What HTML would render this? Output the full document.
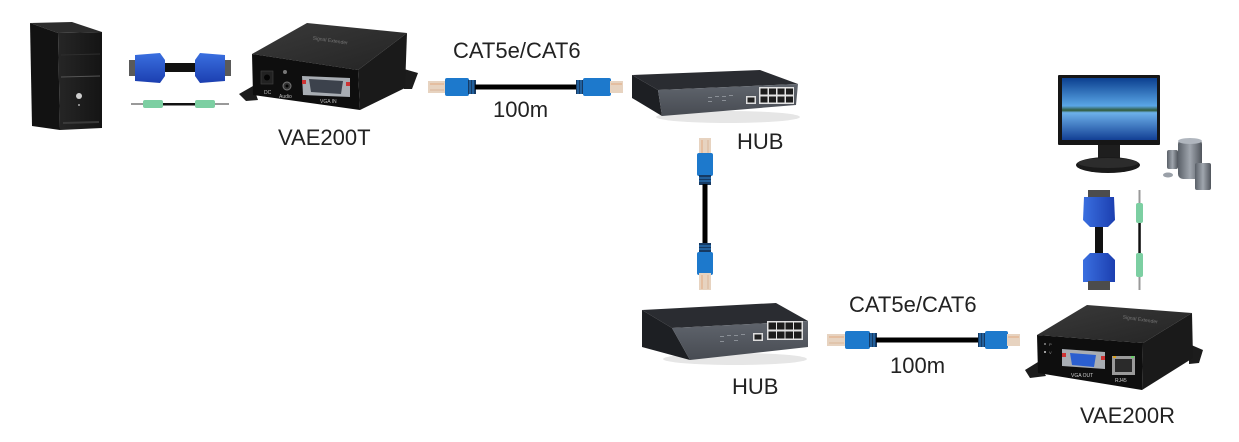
<!DOCTYPE html>
<html>
<head>
<meta charset="utf-8">
<style>
html,body{margin:0;padding:0;background:#fff;}
svg{display:block;}
text{font-family:"Liberation Sans",Arial,sans-serif;}
</style>
</head>
<body>
<svg width="1239" height="442" viewBox="0 0 1239 442" xmlns="http://www.w3.org/2000/svg">
<defs>
  <linearGradient id="towerFront" x1="0" y1="0" x2="1" y2="0">
    <stop offset="0" stop-color="#262626"/><stop offset="1" stop-color="#141414"/>
  </linearGradient>
  <linearGradient id="screen" x1="0" y1="0" x2="0" y2="1">
    <stop offset="0" stop-color="#0b3f8f"/>
    <stop offset="0.45" stop-color="#5aa6e6"/>
    <stop offset="0.52" stop-color="#2f5a3a"/>
    <stop offset="0.56" stop-color="#6db1ea"/>
    <stop offset="1" stop-color="#123f94"/>
  </linearGradient>
  <linearGradient id="vgaBlue" x1="0" y1="0" x2="0" y2="1">
    <stop offset="0" stop-color="#3a6fe0"/><stop offset="1" stop-color="#1c3fb0"/>
  </linearGradient>
  <linearGradient id="vgaBlueV" x1="0" y1="0" x2="1" y2="0">
    <stop offset="0" stop-color="#3a6fe0"/><stop offset="1" stop-color="#1c3fb0"/>
  </linearGradient>
  <linearGradient id="hubFront" x1="0" y1="0" x2="0" y2="1">
    <stop offset="0" stop-color="#60656d"/><stop offset="1" stop-color="#474b52"/>
  </linearGradient>
  <linearGradient id="spk" x1="0" y1="0" x2="1" y2="0">
    <stop offset="0" stop-color="#5a6068"/><stop offset="0.5" stop-color="#a0a6ae"/><stop offset="1" stop-color="#50555c"/>
  </linearGradient>
  <linearGradient id="boxTop" x1="0" y1="0" x2="1" y2="1">
    <stop offset="0" stop-color="#3a3a3a"/><stop offset="1" stop-color="#242424"/>
  </linearGradient>
</defs>

<!-- ========== PC TOWER ========== -->
<polygon points="30,23 72,22 102,32 58,33" fill="#2c2c2c"/>
<polygon points="30,23 58,33 60,130 32,126" fill="#121212"/>
<polygon points="58,33 102,32 102,128 60,130" fill="url(#towerFront)"/>
<line x1="61" y1="77" x2="100" y2="76" stroke="#555" stroke-width="1"/>
<line x1="61" y1="55" x2="100" y2="54" stroke="#2e2e2e" stroke-width="1"/>
<circle cx="79" cy="96" r="3" fill="#cfcfcf"/>
<rect x="78" y="104" width="2" height="2" fill="#888"/>
<line x1="63" y1="123" x2="99" y2="122" stroke="#3a3a3a" stroke-width="2"/>

<!-- ========== VGA CABLE (horizontal, top-left) ========== -->
<rect x="158" y="63" width="40" height="9" fill="#111"/>
<rect x="129" y="60" width="9" height="16" fill="#5a5a5a"/>
<polygon points="135,55 160,53 165,60 165,76 160,83 135,81" fill="url(#vgaBlue)"/>
<rect x="222" y="60" width="9" height="16" fill="#5a5a5a"/>
<polygon points="195,60 200,53 225,55 225,81 200,83 195,76" fill="url(#vgaBlue)"/>
<!-- audio cable -->
<rect x="131" y="103" width="13" height="2" fill="#999"/>
<rect x="143" y="100" width="20" height="8" rx="2" fill="#7ccfa2"/>
<rect x="163" y="103" width="32" height="2.5" fill="#111"/>
<rect x="195" y="100" width="20" height="8" rx="2" fill="#7ccfa2"/>
<rect x="215" y="103" width="14" height="2" fill="#999"/>

<!-- ========== VAE200T ========== -->
<polygon points="239,94 253,86 258,100 246,101" fill="#1c1c1c"/>
<polygon points="404,69 418,73 412,89 404,89" fill="#1c1c1c"/>
<polygon points="252,54 307,23 407,33 358,70" fill="url(#boxTop)"/>
<polygon points="358,70 407,33 405,88 360,110" fill="#1a1a1a"/>
<polygon points="252,54 358,70 360,110 253,95" fill="#0e0e0e"/>
<text x="330" y="42" font-size="5" fill="#777" transform="rotate(8 330 42)" text-anchor="middle">Signal Extender</text>
<!-- DC -->
<rect x="261" y="71" width="12" height="13" fill="#222" stroke="#444" stroke-width="0.6"/>
<circle cx="267" cy="77.5" r="3" fill="#050505"/>
<text x="264" y="94" font-size="5" fill="#bbb">DC</text>
<!-- audio -->
<circle cx="285" cy="72" r="2" fill="#777"/>
<circle cx="287" cy="86" r="4" fill="#333" stroke="#777" stroke-width="1"/>
<circle cx="287" cy="86" r="1.5" fill="#000"/>
<text x="279" y="98" font-size="5" fill="#bbb">Audio</text>
<!-- VGA in -->
<polygon points="302,76 350,78 350,97 303,95" fill="#a8adb3"/>
<rect x="302" y="80" width="4" height="4" fill="#c33"/>
<rect x="346" y="82" width="4" height="4" fill="#c33"/>
<polygon points="309,79 343,81 341,94 311,92" fill="#3c424c"/>
<text x="320" y="103" font-size="5" fill="#bbb">VGA IN</text>
<text x="278" y="145" font-size="22" fill="#222">VAE200T</text>

<!-- ========== TOP CABLE ========== -->
<rect x="428" y="81" width="18" height="12" fill="#e7d3c0"/>
<line x1="430" y1="84" x2="444" y2="84" stroke="#e0a070" stroke-width="0.8"/>
<line x1="430" y1="90" x2="444" y2="90" stroke="#d8b090" stroke-width="0.8"/>
<rect x="445" y="78" width="24" height="18" rx="2" fill="#1d79cc"/>
<rect x="468" y="80" width="8" height="14" fill="#163a63"/>
<line x1="470" y1="80" x2="470" y2="94" stroke="#2f86d6" stroke-width="1"/>
<line x1="473" y1="80" x2="473" y2="94" stroke="#2f86d6" stroke-width="1"/>
<rect x="475" y="84.5" width="102" height="5" fill="#000"/>
<rect x="576" y="80" width="8" height="14" fill="#163a63"/>
<line x1="578" y1="80" x2="578" y2="94" stroke="#2f86d6" stroke-width="1"/>
<line x1="581" y1="80" x2="581" y2="94" stroke="#2f86d6" stroke-width="1"/>
<rect x="583" y="78" width="28" height="18" rx="2" fill="#1d79cc"/>
<rect x="610" y="81" width="13" height="12" fill="#e7d3c0"/>
<line x1="611" y1="84" x2="622" y2="84" stroke="#e0a070" stroke-width="0.8"/>
<text x="453" y="58" font-size="22" fill="#222">CAT5e/CAT6</text>
<text x="493" y="117" font-size="22" fill="#222">100m</text>

<!-- ========== TOP HUB ========== -->
<ellipse cx="728" cy="117" rx="72" ry="6" fill="#e6e6e6"/>
<polygon points="632,75 760,70 798,84 658,90" fill="#2a2c31"/>
<polygon points="632,75 658,90 662,116 632,98" fill="#1d1f23"/>
<polygon points="658,90 798,84 796,105 662,116" fill="url(#hubFront)"/>
<g fill="#8a8f96">
<rect x="708" y="97" width="4" height="1"/><rect x="715" y="96" width="4" height="1"/><rect x="722" y="96" width="4" height="1"/><rect x="729" y="95" width="4" height="1"/>
<rect x="708" y="101" width="4" height="1"/><rect x="722" y="100" width="4" height="1"/>
</g>
<rect x="746" y="96" width="10" height="8" fill="#ddd"/>
<rect x="747.5" y="97.5" width="7" height="5" fill="#222"/>
<rect x="759" y="87" width="35" height="17" fill="#e2e2e2"/>
<g fill="#1c1c1c">
<rect x="760.5" y="88.5" width="7" height="6"/><rect x="769" y="88.5" width="7" height="6"/><rect x="777.5" y="88.5" width="7" height="6"/><rect x="786" y="88.5" width="7" height="6"/>
<rect x="760.5" y="96.5" width="7" height="6"/><rect x="769" y="96.5" width="7" height="6"/><rect x="777.5" y="96.5" width="7" height="6"/><rect x="786" y="96.5" width="7" height="6"/>
</g>
<text x="737" y="149" font-size="22" fill="#222">HUB</text>

<!-- ========== VERTICAL CABLE ========== -->
<rect x="699" y="138" width="12" height="17" fill="#e7d3c0"/>
<line x1="702" y1="140" x2="702" y2="154" stroke="#e0a070" stroke-width="0.8"/>
<line x1="708" y1="140" x2="708" y2="154" stroke="#d8b090" stroke-width="0.8"/>
<rect x="697" y="153" width="16" height="23" rx="2" fill="#1d79cc"/>
<rect x="699" y="175" width="12" height="10" fill="#163a63"/>
<line x1="699" y1="178" x2="711" y2="178" stroke="#2f86d6" stroke-width="1"/>
<line x1="699" y1="181" x2="711" y2="181" stroke="#2f86d6" stroke-width="1"/>
<rect x="702.5" y="184" width="5" height="60" fill="#000"/>
<rect x="699" y="243" width="12" height="10" fill="#163a63"/>
<line x1="699" y1="246" x2="711" y2="246" stroke="#2f86d6" stroke-width="1"/>
<line x1="699" y1="249" x2="711" y2="249" stroke="#2f86d6" stroke-width="1"/>
<rect x="697" y="252" width="16" height="23" rx="2" fill="#1d79cc"/>
<rect x="699" y="273" width="12" height="17" fill="#e7d3c0"/>
<line x1="702" y1="275" x2="702" y2="289" stroke="#e0a070" stroke-width="0.8"/>
<line x1="708" y1="275" x2="708" y2="289" stroke="#d8b090" stroke-width="0.8"/>

<!-- ========== BOTTOM HUB ========== -->
<ellipse cx="735" cy="359" rx="72" ry="6" fill="#e6e6e6"/>
<polygon points="642,310 776,303 808,321 672,328" fill="#2a2c31"/>
<polygon points="642,310 672,328 690,360 642,347" fill="#1d1f23"/>
<polygon points="672,328 808,321 808,347 690,360" fill="url(#hubFront)"/>
<g fill="#8a8f96">
<rect x="720" y="336" width="4" height="1"/><rect x="727" y="335" width="4" height="1"/><rect x="734" y="335" width="4" height="1"/><rect x="741" y="334" width="4" height="1"/>
<rect x="720" y="341" width="4" height="1"/><rect x="734" y="340" width="4" height="1"/>
</g>
<rect x="753" y="333" width="10" height="8" fill="#ddd"/>
<rect x="754.5" y="334.5" width="7" height="5" fill="#222"/>
<rect x="767" y="321" width="36" height="19" fill="#e2e2e2"/>
<g fill="#1c1c1c">
<rect x="768.5" y="322.5" width="7.5" height="7"/><rect x="777" y="322.5" width="7.5" height="7"/><rect x="785.5" y="322.5" width="7.5" height="7"/><rect x="794" y="322.5" width="7.5" height="7"/>
<rect x="768.5" y="331.5" width="7.5" height="7"/><rect x="777" y="331.5" width="7.5" height="7"/><rect x="785.5" y="331.5" width="7.5" height="7"/><rect x="794" y="331.5" width="7.5" height="7"/>
</g>
<text x="732" y="394" font-size="22" fill="#222">HUB</text>

<!-- ========== BOTTOM CABLE ========== -->
<rect x="827" y="334" width="19" height="12" fill="#e7d3c0"/>
<line x1="829" y1="337" x2="844" y2="337" stroke="#e0a070" stroke-width="0.8"/>
<line x1="829" y1="343" x2="844" y2="343" stroke="#d8b090" stroke-width="0.8"/>
<rect x="845" y="331" width="25" height="18" rx="2" fill="#1d79cc"/>
<rect x="869" y="333" width="8" height="14" fill="#163a63"/>
<line x1="871" y1="333" x2="871" y2="347" stroke="#2f86d6" stroke-width="1"/>
<line x1="874" y1="333" x2="874" y2="347" stroke="#2f86d6" stroke-width="1"/>
<rect x="876" y="337.5" width="103" height="5" fill="#000"/>
<rect x="978" y="333" width="8" height="14" fill="#163a63"/>
<line x1="980" y1="333" x2="980" y2="347" stroke="#2f86d6" stroke-width="1"/>
<line x1="983" y1="333" x2="983" y2="347" stroke="#2f86d6" stroke-width="1"/>
<rect x="985" y="331" width="23" height="18" rx="2" fill="#1d79cc"/>
<rect x="1007" y="334" width="13" height="12" fill="#e7d3c0"/>
<line x1="1008" y1="337" x2="1019" y2="337" stroke="#e0a070" stroke-width="0.8"/>
<text x="849" y="312" font-size="22" fill="#222">CAT5e/CAT6</text>
<text x="890" y="373" font-size="22" fill="#222">100m</text>

<!-- ========== MONITOR ========== -->
<rect x="1058" y="75" width="102" height="70" rx="1" fill="#161616"/>
<rect x="1062" y="78" width="95" height="62" fill="url(#screen)"/>
<rect x="1098" y="145" width="22" height="15" fill="#1e1e1e"/>
<ellipse cx="1108" cy="165" rx="32" ry="8" fill="#1a1a1a"/>
<ellipse cx="1108" cy="163" rx="30" ry="5" fill="#2c2c2c"/>

<!-- ========== SPEAKERS ========== -->
<rect x="1167" y="150" width="11" height="19" rx="2" fill="url(#spk)"/>
<rect x="1178" y="139" width="24" height="40" rx="5" fill="url(#spk)"/>
<ellipse cx="1190" cy="141" rx="12" ry="3" fill="#b0b6be"/>
<rect x="1195" y="163" width="16" height="27" rx="2" fill="url(#spk)"/>
<ellipse cx="1168" cy="175" rx="5" ry="2.5" fill="#9aa0a8"/>

<!-- ========== RIGHT VGA + AUDIO (vertical) ========== -->
<rect x="1095" y="223" width="8" height="32" fill="#111"/>
<rect x="1088" y="190" width="22" height="9" fill="#4c4c4c"/>
<polygon points="1084,197 1114,197 1115,220 1108,227 1090,227 1083,220" fill="url(#vgaBlueV)"/>
<polygon points="1090,253 1108,253 1115,260 1115,282 1083,282 1083,260" fill="url(#vgaBlueV)"/>
<rect x="1088" y="281" width="22" height="9" fill="#4c4c4c"/>
<rect x="1138.5" y="190" width="2" height="14" fill="#999"/>
<rect x="1136" y="203" width="7" height="20" rx="2" fill="#7ccfa2"/>
<rect x="1138.3" y="223" width="2.5" height="30" fill="#111"/>
<rect x="1136" y="253" width="7" height="24" rx="2" fill="#7ccfa2"/>
<rect x="1138.5" y="277" width="2" height="13" fill="#999"/>

<!-- ========== VAE200R ========== -->
<polygon points="1025,370 1038,362 1046,376 1030,378" fill="#1c1c1c"/>
<polygon points="1189,344 1203,350 1199,363 1189,364" fill="#1c1c1c"/>
<polygon points="1037,335 1087,305 1192,313 1143,343" fill="url(#boxTop)"/>
<text x="1140" y="321" font-size="5" fill="#777" transform="rotate(8 1140 321)" text-anchor="middle">Signal Extender</text>
<polygon points="1143,343 1192,313 1193,358 1142,390" fill="#1a1a1a"/>
<polygon points="1037,335 1143,343 1142,390 1038,373" fill="#0e0e0e"/>
<circle cx="1045" cy="344" r="1" fill="#888"/>
<circle cx="1045" cy="352" r="1" fill="#ccc"/>
<text x="1049" y="346" font-size="4" fill="#999">P</text>
<text x="1049" y="354" font-size="4" fill="#999">V</text>
<polygon points="1062,349 1105,352 1105,369 1062,366" fill="#a8adb3"/>
<rect x="1062" y="353" width="4" height="4" fill="#c33"/>
<rect x="1101" y="356" width="4" height="4" fill="#c33"/>
<polygon points="1070,353 1096,355 1094,367 1072,365" fill="#2b5fd0"/>
<rect x="1112" y="356" width="23" height="19" fill="#9a9a9a"/>
<rect x="1115" y="359" width="17" height="13" fill="#2a2a2a"/>
<rect x="1113" y="356" width="3" height="2" fill="#d9a020"/>
<rect x="1131" y="356" width="3" height="2" fill="#6c6"/>
<text x="1071" y="377" font-size="5" fill="#ccc">VGA OUT</text>
<text x="1115" y="382" font-size="5" fill="#ccc">RJ45</text>
<text x="1080" y="423" font-size="22" fill="#222">VAE200R</text>
</svg>
</body>
</html>
